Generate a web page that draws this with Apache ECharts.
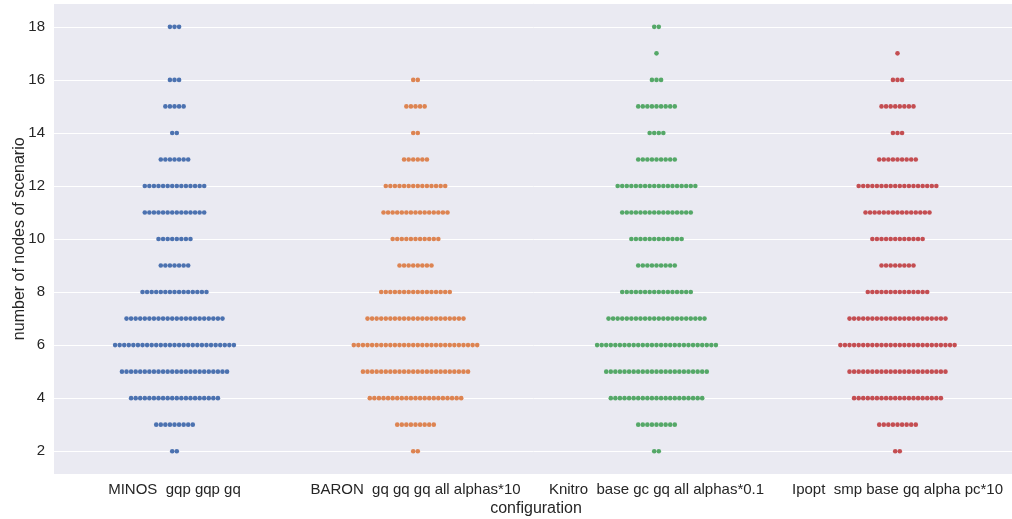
<!DOCTYPE html>
<html>
<head>
<meta charset="utf-8">
<script src="https://cdn.jsdelivr.net/npm/echarts@6/dist/echarts.min.js"></script>
<style>
  html, body { margin: 0; padding: 0; background: #ffffff; }
  #chart { width: 1012px; height: 519px; }
</style>
</head>
<body>
<div id="chart"></div>
<script>
// Solver configurations on the x axis
const categories = [
  'MINOS  gqp gqp gq',
  'BARON  gq gq gq all alphas*10',
  'Knitro  base gc gq all alphas*0.1',
  'Ipopt  smp base gq alpha pc*10'
];

// Node counts that appear in the scenarios
const levels = [2, 3, 4, 5, 6, 7, 8, 9, 10, 11, 12, 13, 14, 15, 16, 17, 18];

// How many scenarios have each node count, per configuration
const minosCounts  = [2, 9, 20, 24, 27, 22, 15, 7, 8, 14, 14, 7, 2, 5, 3, 0, 3];
const baronCounts  = [2, 9, 21, 24, 28, 22, 16, 8, 11, 15, 14, 6, 2, 5, 2, 0, 0];
const knitroCounts = [2, 9, 21, 23, 27, 22, 16, 9, 12, 16, 18, 9, 4, 9, 3, 1, 2];
const ipoptCounts  = [2, 9, 20, 22, 26, 22, 14, 8, 12, 15, 18, 9, 3, 8, 3, 1, 0];

const yTicks = [2, 4, 6, 8, 10, 12, 14, 16, 18];

const colors = ['#4C72B0', '#DD8452', '#55A868', '#C44E52'];
const countsByCategory = [minosCounts, baronCounts, knitroCounts, ipoptCounts];

// Swarm layout: observations sharing a value sit side by side, centred on the category
const DOT_STEP = 4.57;
function swarm(catIndex, counts) {
  const pts = [];
  counts.forEach((n, li) => {
    for (let i = 0; i < n; i++) {
      const dx = (i - (n - 1) / 2) * DOT_STEP;
      pts.push({ value: [catIndex, levels[li]], symbolOffset: [dx, 0] });
    }
  });
  return pts;
}

const textColor = '#262626';
const fontFamily = '"Liberation Sans", Arial, sans-serif';

const chart = echarts.init(document.getElementById('chart'), null, { renderer: 'canvas' });
chart.setOption({
  backgroundColor: '#ffffff',
  animation: false,
  grid: {
    left: 54, right: -6, top: 3.5, bottom: 45,
    outerBoundsMode: 'none',
    containLabel: false,
    show: true, backgroundColor: '#EAEAF2', borderWidth: 0
  },
  xAxis: {
    type: 'category',
    data: categories,
    boundaryGap: true,
    axisLine: { show: false },
    axisTick: { show: false },
    splitLine: { show: false },
    axisLabel: { color: textColor, fontSize: 15, fontFamily, margin: 8, interval: 0 },
    name: 'configuration',
    nameLocation: 'middle',
    nameGap: 27,
    nameMoveOverlap: false,
    nameTextStyle: { color: textColor, fontSize: 16, fontFamily }
  },
  yAxis: {
    type: 'value',
    min: 1.14,
    max: 18.88,
    minInterval: 2,
    maxInterval: 2,
    axisLine: { show: false },
    axisTick: { show: false },
    splitLine: { show: true, lineStyle: { color: '#ffffff', width: 1 } },
    axisLabel: {
      color: textColor, fontSize: 15, fontFamily, margin: 9,
      showMinLabel: false, showMaxLabel: false,
      formatter: v => (yTicks.indexOf(v) >= 0 ? String(v) : '')
    },
    name: 'number of nodes of scenario',
    nameLocation: 'middle',
    nameGap: 26,
    nameMoveOverlap: false,
    nameTextStyle: { color: textColor, fontSize: 16, fontFamily }
  },
  series: countsByCategory.map((counts, ci) => ({
    type: 'scatter',
    data: swarm(ci, counts),
    symbol: 'circle',
    symbolSize: 4.6,
    itemStyle: { color: colors[ci], opacity: 1 },
    silent: true
  }))
});
</script>
</body>
</html>
